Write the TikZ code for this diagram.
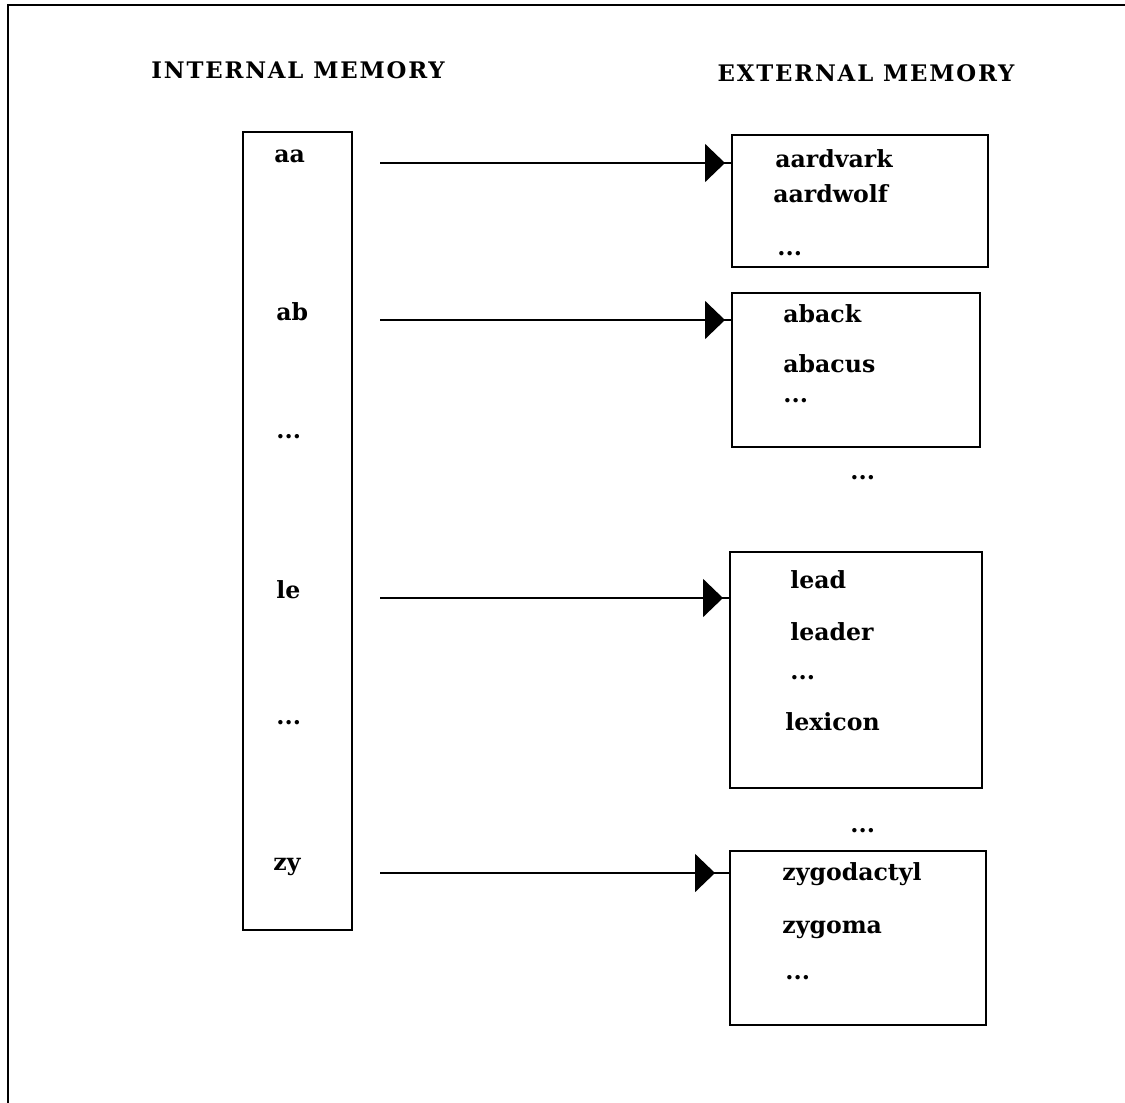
\documentclass[tikz,border=0pt]{standalone}
\usepackage{fontspec}
\setmainfont{DejaVu Serif}
\newfontfamily\headfont{DejaVu Serif}[LetterSpace=8]
\usetikzlibrary{arrows.meta,decorations.markings}

\tikzset{
  word/.style={anchor=base west, inner sep=0pt, font=\bfseries\fontsize{11.8}{13}\selectfont},
  heading/.style={anchor=base, inner sep=0pt, font=\headfont\bfseries\fontsize{11.4}{13}\selectfont},
  block/.style={draw, line width=1pt, anchor=north west, inner sep=0pt, outer sep=0pt},
  link/.style={line width=1pt,
    postaction={decorate},
    decoration={markings, mark=at position -#1 with {\arrow{Triangle[length=10pt,width=19pt]}}}},
  link/.default=3.5pt
}

\begin{document}
\begin{tikzpicture}[x=0.5pt, y=-0.5pt]
  \useasboundingbox (0,0) rectangle (1125,1103);

  % page frame (top and left edges)
  \draw[line width=1.2pt] (1125,5) -- (8,5) -- (8,1103);

  % headings
  \node[heading] (hin)  at (298,78) {INTERNAL MEMORY};
  \node[heading] (hext) at (866,81) {EXTERNAL MEMORY};

  % index held in internal memory
  \node[block, minimum width=54.5pt, minimum height=399pt] (index) at (243,132) {};
  \node[word] (kaa) at (274,162) {aa};
  \node[word] (kab) at (276,320) {ab};
  \node[word] (kd1) at (276,438) {...};
  \node[word] (kle) at (276,598) {le};
  \node[word] (kd2) at (276,724) {...};
  \node[word] (kzy) at (273,870) {zy};

  % blocks held in external memory
  \node[block, minimum width=128pt, minimum height=66pt]  (b1) at (732,135) {};
  \node[block, minimum width=124pt, minimum height=77pt]  (b2) at (732,293) {};
  \node[block, minimum width=126pt, minimum height=118pt] (b3) at (730,552) {};
  \node[block, minimum width=128pt, minimum height=87pt]  (b4) at (730,851) {};

  \node[word] (w11) at (775,167) {aardvark};
  \node[word] (w12) at (773,202) {aardwolf};
  \node[word] (w13) at (777,255) {...};

  \node[word] (w21) at (783,322) {aback};
  \node[word] (w22) at (783,372) {abacus};
  \node[word] (w23) at (783,402) {...};

  \node[word] (m1) at (850,479) {...};

  \node[word] (w31) at (790,588) {lead};
  \node[word] (w32) at (790,640) {leader};
  \node[word] (w33) at (790,679) {...};
  \node[word] (w34) at (785,730) {lexicon};

  \node[word] (m2) at (850,832) {...};

  \node[word] (w41) at (782,880) {zygodactyl};
  \node[word] (w42) at (782,933) {zygoma};
  \node[word] (w43) at (785,979) {...};

  % pointers from index entries to blocks
  \coordinate (paa) at (380,163);
  \coordinate (pab) at (380,320);
  \coordinate (ple) at (380,598);
  \coordinate (pzy) at (380,873);
  \draw[link] (paa) -- (b1.west |- paa);
  \draw[link] (pab) -- (b2.west |- pab);
  \draw[link] (ple) -- (b3.west |- ple);
  \draw[link=7.5pt] (pzy) -- (b4.west |- pzy);
\end{tikzpicture}
\end{document}
